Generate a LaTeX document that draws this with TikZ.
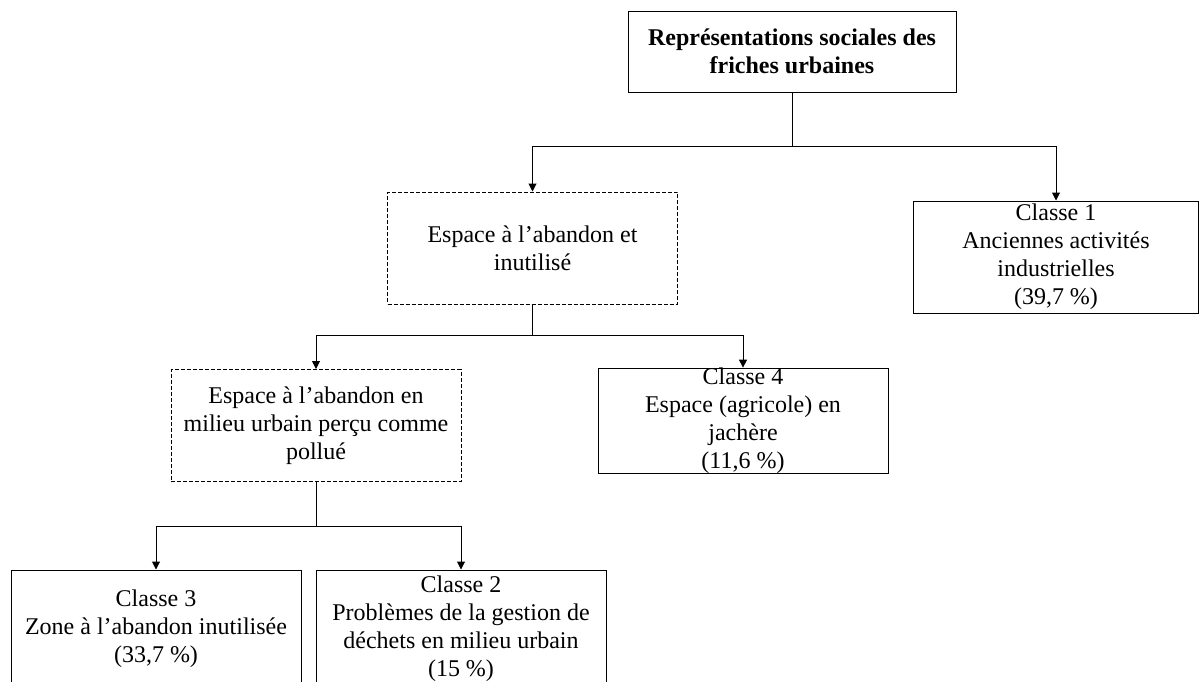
\documentclass[tikz,border=0pt]{standalone}
\usepackage{fontspec}
\setmainfont{Liberation Serif}
\usetikzlibrary{arrows.meta}

\begin{document}
\begin{tikzpicture}[x=0.5pt,y=-0.5pt,>={Triangle[length=4pt,width=4pt]},
  boite/.style={draw,line width=0.5pt,inner sep=0pt,align=center,
    minimum width=145pt,minimum height=56pt,font=\fontsize{12}{14}\selectfont},
  pointille/.style={boite,dash pattern=on 2pt off 1pt},
  fleche/.style={line width=0.5pt,->}]
  \useasboundingbox (0,0) rectangle (1200,681);
  % titre
  \node[boite,minimum width=164pt,minimum height=40.5pt,
    font=\fontsize{12}{14}\selectfont\bfseries] (titre) at (792,51.5)
    {Représentations sociales des\\friches urbaines};
  % niveau 1
  \node[pointille] (espace) at (532.5,248) {Espace à l’abandon et\\inutilisé};
  \node[boite,minimum width=142.5pt] (cl1) at (1056,257)
    {Classe 1\\Anciennes activités\\industrielles\\(39,7 \%)};
  % niveau 2
  \node[pointille] (pollue) at (316,425.5)
    {Espace à l’abandon en\\milieu urbain perçu comme\\pollué};
  \node[boite,minimum height=52pt] (cl4) at (743,421)
    {Classe 4\\Espace (agricole) en\\jachère\\(11,6 \%)};
  % niveau 3
  \node[boite,minimum height=59pt] (cl3) at (156,629)
    {Classe 3\\Zone à l’abandon inutilisée\\(33,7 \%)};
  \node[boite,minimum height=59pt] (cl2) at (461,629)
    {Classe 2\\Problèmes de la gestion de\\déchets en milieu urbain\\(15 \%)};
  % liaisons
  \draw[line width=0.5pt] (titre.south) -- ++(0,54) coordinate (n1);
  \draw[fleche] (n1) -| (espace.north);
  \draw[fleche] (n1) -| (cl1.north);
  \draw[line width=0.5pt] (espace.south) -- ++(0,31) coordinate (n2);
  \draw[fleche] (n2) -| (pollue.north);
  \draw[fleche] (n2) -| (cl4.north);
  \draw[line width=0.5pt] (pollue.south) -- ++(0,44) coordinate (n3);
  \draw[fleche] (n3) -| (cl3.north);
  \draw[fleche] (n3) -| (cl2.north);
\end{tikzpicture}
\end{document}
